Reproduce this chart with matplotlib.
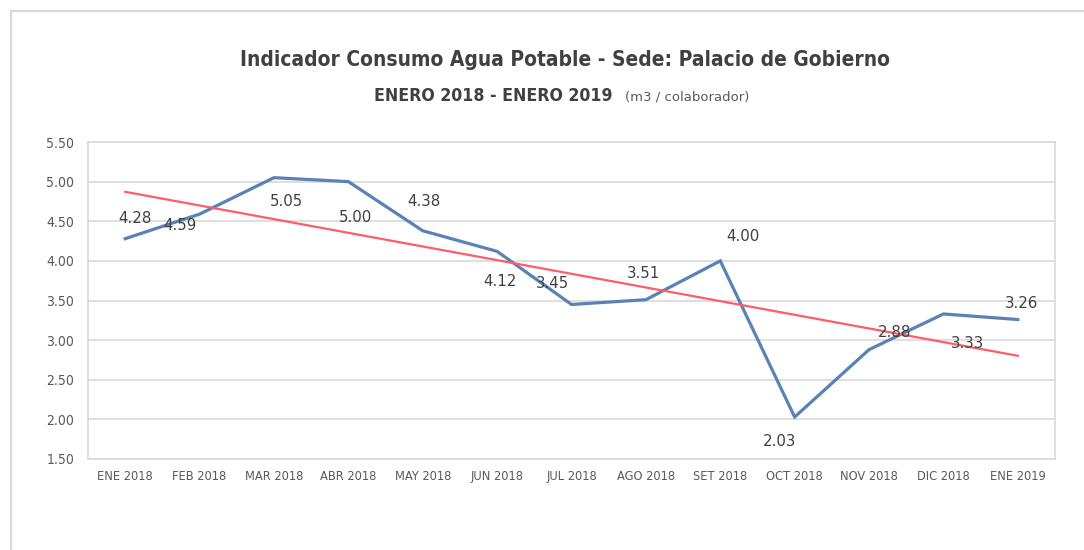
import numpy as np
import matplotlib
matplotlib.use("Agg")
import matplotlib.pyplot as plt
from matplotlib.lines import Line2D

months = ["ENE 2018", "FEB 2018", "MAR 2018", "ABR 2018", "MAY 2018", "JUN 2018",
          "JUL 2018", "AGO 2018", "SET 2018", "OCT 2018", "NOV 2018", "DIC 2018", "ENE 2019"]
values = [4.28, 4.59, 5.05, 5.00, 4.38, 4.12, 3.45, 3.51, 4.00, 2.03, 2.88, 3.33, 3.26]
yticks = [1.50, 2.00, 2.50, 3.00, 3.50, 4.00, 4.50, 5.00, 5.50]

# label offsets in pixels (dx, dy) relative to each point
label_offsets = [(10, 20), (-20, -11), (12, -24), (7, -36), (1, 29), (3, -30), (-19, 21),
                 (-2, 26), (23, 24), (-15, -25), (26, 17), (24, -30), (4, 16)]

plt.rcParams['font.family'] = ["DejaVu Sans"]
plt.rcParams['font.stretch'] = "condensed"

fig = plt.figure(figsize=(10.84, 5.5), dpi=100)
fig.patch.set_facecolor("white")

# outer frame (left and top edges)
fig.add_artist(Line2D([11/1084, 11/1084], [0, 1 - 11/550], transform=fig.transFigure,
                      color="#D9D9D9", lw=1.6))
fig.add_artist(Line2D([11/1084, 1], [1 - 11/550, 1 - 11/550], transform=fig.transFigure,
                      color="#D9D9D9", lw=1.6))

ax = fig.add_axes([88/1084, 1 - 459/550, (1055 - 88)/1084, (459 - 142)/550])
x = np.arange(len(months))

ax.plot(x, values, color="#5A82B4", lw=2.3, zorder=3, solid_joinstyle="miter")
coef = np.polyfit(x, values, 1)
ax.plot(x, np.polyval(coef, x), color="#FF5C6A", lw=1.6, zorder=4)

for xi, v, (dx, dy) in zip(x, values, label_offsets):
    ax.annotate(f"{v:.2f}", (xi, v), xytext=(dx, dy), textcoords="offset pixels",
                ha="center", va="center", fontsize=10.8, color="#404040", zorder=5,
                fontstretch="normal")

ax.set_xlim(-0.5, 12.5)
ax.set_ylim(1.5, 5.5)
ax.set_yticks(yticks)
ax.set_yticklabels([f"{t:.2f}" for t in yticks], fontsize=10, color="#595959")
ax.set_xticks(x)
ax.set_xticklabels(months, fontsize=9.2, color="#595959")
ax.tick_params(axis="both", length=0)
ax.tick_params(axis="y", pad=10)
ax.tick_params(axis="x", pad=8)
ax.grid(axis="y", color="#D9D9D9", lw=1.2)
ax.set_axisbelow(True)
for s in ax.spines.values():
    s.set_color("#D9D9D9")
    s.set_linewidth(1.2)

fig.text(565/1084, 1 - 60/550, "Indicador Consumo Agua Potable - Sede: Palacio de Gobierno",
         ha="center", va="center", fontsize=15, fontweight="bold", color="#404040")
fig.text(612/1084, 1 - 96/550, "ENERO 2018 - ENERO 2019", ha="right", va="center",
         fontsize=12.7, fontweight="bold", color="#404040")
fig.text(625/1084, 1 - 97/550, "(m3 / colaborador)", ha="left", va="center",
         fontsize=9.5, color="#595959", fontstretch="normal")

fig.savefig("out.png", dpi=100, facecolor="white")
